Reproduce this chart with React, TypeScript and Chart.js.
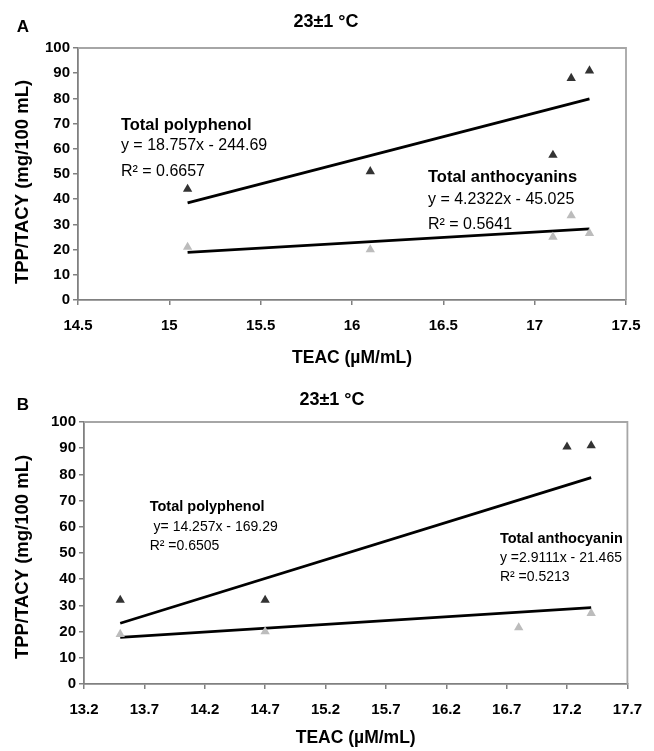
import React, { useEffect, useRef } from "react";
import { Chart, registerables } from "chart.js";
Chart.register(...registerables);

// ---------- data (panel A) ----------
const A_TPP_X = [15.1, 16.1, 17.1, 17.2, 17.3];
const A_TPP_Y = [44, 51, 57.5, 88, 91];
const A_TACY_X = [15.1, 16.1, 17.1, 17.2, 17.3];
const A_TACY_Y = [21, 20, 25, 33.5, 26.5];
const A_TPP_FIT = [18.757, -244.69]; // slope, intercept
const A_TACY_FIT = [4.2322, -45.025];
const A_X_TICKS = [14.5, 15, 15.5, 16, 16.5, 17, 17.5];

// ---------- data (panel B) ----------
const B_TPP_X = [13.5, 14.7, 17.2, 17.4];
const B_TPP_Y = [32, 32, 90.5, 91];
const B_TACY_X = [13.5, 14.7, 16.8, 17.4];
const B_TACY_Y = [19, 20, 21.5, 27];
const B_TPP_FIT = [14.257, -169.29];
const B_TACY_FIT = [2.9111, -21.465];
const B_X_TICKS = [13.2, 13.7, 14.2, 14.7, 15.2, 15.7, 16.2, 16.7, 17.2, 17.7];

const Y_TICKS = [0, 10, 20, 30, 40, 50, 60, 70, 80, 90, 100];

const FONT = "'Liberation Sans', Arial, Helvetica, sans-serif";

function pts(xs: number[], ys: number[]) {
  return xs.map((x, i) => ({ x, y: ys[i] }));
}
function fit(xs: number[], c: number[]) {
  const lo = Math.min(...xs);
  const hi = Math.max(...xs);
  return [lo, hi].map((x) => ({ x, y: c[0] * x + c[1] }));
}

type Note = { text: string; x: number; y: number; bold?: boolean; size: number };
type PanelCfg = {
  letter: string;
  title: string;
  titleX: number;
  titleY: number;
  yTitleX: number;
  yTitleY: number;
  xTitleOffset: number;
  notes: Note[];
};

const panelPlugin = {
  id: "panel",
  beforeDatasetsDraw(chart: any) {
    const { ctx, chartArea: a } = chart;
    ctx.save();
    ctx.strokeStyle = "#a6a6a6";
    ctx.lineWidth = 1.8;
    ctx.beginPath();
    ctx.moveTo(a.left, a.top);
    ctx.lineTo(a.right, a.top);
    ctx.lineTo(a.right, a.bottom);
    ctx.stroke();
    ctx.restore();
  },
  afterDraw(chart: any, _args: any, opts: PanelCfg) {
    const { ctx, chartArea: a, scales } = chart;
    ctx.save();
    ctx.fillStyle = "#000";
    // panel letter
    ctx.font = `bold 17px ${FONT}`;
    ctx.textAlign = "center";
    ctx.textBaseline = "middle";
    ctx.fillText(opts.letter, 23, opts.titleY + 5);
    // title
    ctx.font = `bold 18px ${FONT}`;
    ctx.fillText(opts.title, opts.titleX, opts.titleY);
    // x title
    ctx.font = `bold 17.5px ${FONT}`;
    ctx.fillText("TEAC (\u00b5M/mL)", (a.left + a.right) / 2, a.bottom + opts.xTitleOffset);
    // y title
    ctx.save();
    ctx.translate(opts.yTitleX, opts.yTitleY);
    ctx.rotate(-Math.PI / 2);
    ctx.font = `bold 18.5px ${FONT}`;
    ctx.fillText("TPP/TACY (mg/100 mL)", 0, 0);
    ctx.restore();
    // annotations
    ctx.textAlign = "left";
    for (const n of opts.notes) {
      ctx.font = `${n.bold ? "bold " : ""}${n.size}px ${FONT}`;
      ctx.fillText(n.text, scales.x.getPixelForValue(n.x), scales.y.getPixelForValue(n.y));
    }
    ctx.restore();
  },
};

function makeConfig(
  tppX: number[], tppY: number[], tacyX: number[], tacyY: number[],
  tppFit: number[], tacyFit: number[], xTicks: number[],
  area: { left: number; top: number; right: number; bottom: number; w: number; h: number },
  panel: PanelCfg
): any {
  return {
    type: "scatter",
    data: {
      datasets: [
        {
          label: "TPP fit",
          data: fit(tppX, tppFit),
          showLine: true,
          borderColor: "#000",
          borderWidth: 2.8,
          pointRadius: 0,
          order: 3,
        },
        {
          label: "TACY fit",
          data: fit(tacyX, tacyFit),
          showLine: true,
          borderColor: "#000",
          borderWidth: 2.8,
          pointRadius: 0,
          order: 3,
        },
        {
          label: "Total polyphenol",
          data: pts(tppX, tppY),
          pointStyle: "triangle",
          pointRadius: 5.4,
          backgroundColor: "#333333",
          borderColor: "#333333",
          borderWidth: 0,
          order: 1,
        },
        {
          label: "Total anthocyanins",
          data: pts(tacyX, tacyY),
          pointStyle: "triangle",
          pointRadius: 5.4,
          backgroundColor: "#bcbcbc",
          borderColor: "#bcbcbc",
          borderWidth: 0,
          order: 2,
        },
      ],
    },
    options: {
      animation: false,
      responsive: false,
      events: [],
      layout: {
        padding: { left: 0, top: area.top, right: area.w - area.right, bottom: 0 },
      },
      plugins: {
        legend: { display: false },
        tooltip: { enabled: false },
        panel,
      },
      scales: {
        x: {
          type: "linear",
          min: xTicks[0],
          max: xTicks[xTicks.length - 1],
          afterBuildTicks: (s: any) => {
            s.ticks = xTicks.map((v) => ({ value: v }));
          },
          afterFit: (s: any) => {
            s.height = area.h - area.bottom;
          },
          ticks: {
            autoSkip: false,
            maxRotation: 0,
            color: "#000",
            padding: 12,
            font: { family: FONT, size: 15, weight: "bold" },
            callback: (v: any) => String(Math.round(v * 10) / 10),
          },
          grid: { drawOnChartArea: false, drawTicks: true, tickLength: 5, color: "#808080", lineWidth: 1.5 },
          border: { display: true, color: "#808080", width: 1.8 },
        },
        y: {
          type: "linear",
          min: 0,
          max: 100,
          afterBuildTicks: (s: any) => {
            s.ticks = Y_TICKS.map((v) => ({ value: v }));
          },
          afterFit: (s: any) => {
            s.width = area.left;
          },
          ticks: {
            autoSkip: false,
            color: "#000",
            padding: 3,
            font: { family: FONT, size: 15, weight: "bold" },
          },
          grid: { drawOnChartArea: false, drawTicks: true, tickLength: 5, color: "#808080", lineWidth: 1.5 },
          border: { display: true, color: "#808080", width: 1.8 },
        },
      },
    },
    plugins: [panelPlugin],
  };
}

const PANEL_A: PanelCfg = {
  letter: "A",
  title: "23\u00b11 \u00b0C",
  titleX: 326,
  titleY: 22,
  yTitleX: 23,
  yTitleY: 182,
  xTitleOffset: 58,
  notes: [
    { text: "Total polyphenol", x: 14.735, y: 69.4, bold: true, size: 16.5 },
    { text: "y = 18.757x - 244.69", x: 14.735, y: 61.1, size: 16 },
    { text: "R\u00b2 = 0.6657", x: 14.735, y: 50.8, size: 16 },
    { text: "Total anthocyanins", x: 16.416, y: 48.8, bold: true, size: 16.5 },
    { text: "y = 4.2322x - 45.025", x: 16.416, y: 40, size: 16 },
    { text: "R\u00b2 = 0.5641", x: 16.416, y: 30, size: 16 },
  ],
};

const PANEL_B: PanelCfg = {
  letter: "B",
  title: "23\u00b11 \u00b0C",
  titleX: 332,
  titleY: 25,
  yTitleX: 23,
  yTitleY: 182,
  xTitleOffset: 54,
  notes: [
    { text: "Total polyphenol", x: 13.744, y: 67.5, bold: true, size: 14.5 },
    { text: " y= 14.257x - 169.29", x: 13.744, y: 60, size: 14 },
    { text: "R\u00b2 =0.6505", x: 13.744, y: 52.8, size: 14 },
    { text: "Total anthocyanin", x: 16.644, y: 55.2, bold: true, size: 14.5 },
    { text: "y =2.9111x - 21.465", x: 16.644, y: 48, size: 14 },
    { text: "R\u00b2 =0.5213", x: 16.644, y: 40.6, size: 14 },
  ],
};

function Panel(props: { cfg: any; w: number; h: number }) {
  const ref = useRef<HTMLCanvasElement>(null);
  useEffect(() => {
    if (!ref.current) return;
    const chart = new Chart(ref.current, props.cfg);
    return () => chart.destroy();
  }, []);
  return <canvas ref={ref} width={props.w} height={props.h} style={{ display: "block", width: props.w, height: props.h }} />;
}

export default function App() {
  const cfgA = makeConfig(
    A_TPP_X, A_TPP_Y, A_TACY_X, A_TACY_Y, A_TPP_FIT, A_TACY_FIT, A_X_TICKS,
    { left: 78, top: 48, right: 626, bottom: 300, w: 654, h: 375 },
    PANEL_A
  );
  const cfgB = makeConfig(
    B_TPP_X, B_TPP_Y, B_TACY_X, B_TACY_Y, B_TPP_FIT, B_TACY_FIT, B_X_TICKS,
    { left: 84, top: 47, right: 638, bottom: 309, w: 654, h: 376 },
    PANEL_B
  );
  return (
    <div style={{ position: "absolute", left: 0, top: 0, width: 654, height: 751, background: "#fff" }}>
      <Panel cfg={cfgA} w={654} h={375} />
      <Panel cfg={cfgB} w={654} h={376} />
    </div>
  );
}
